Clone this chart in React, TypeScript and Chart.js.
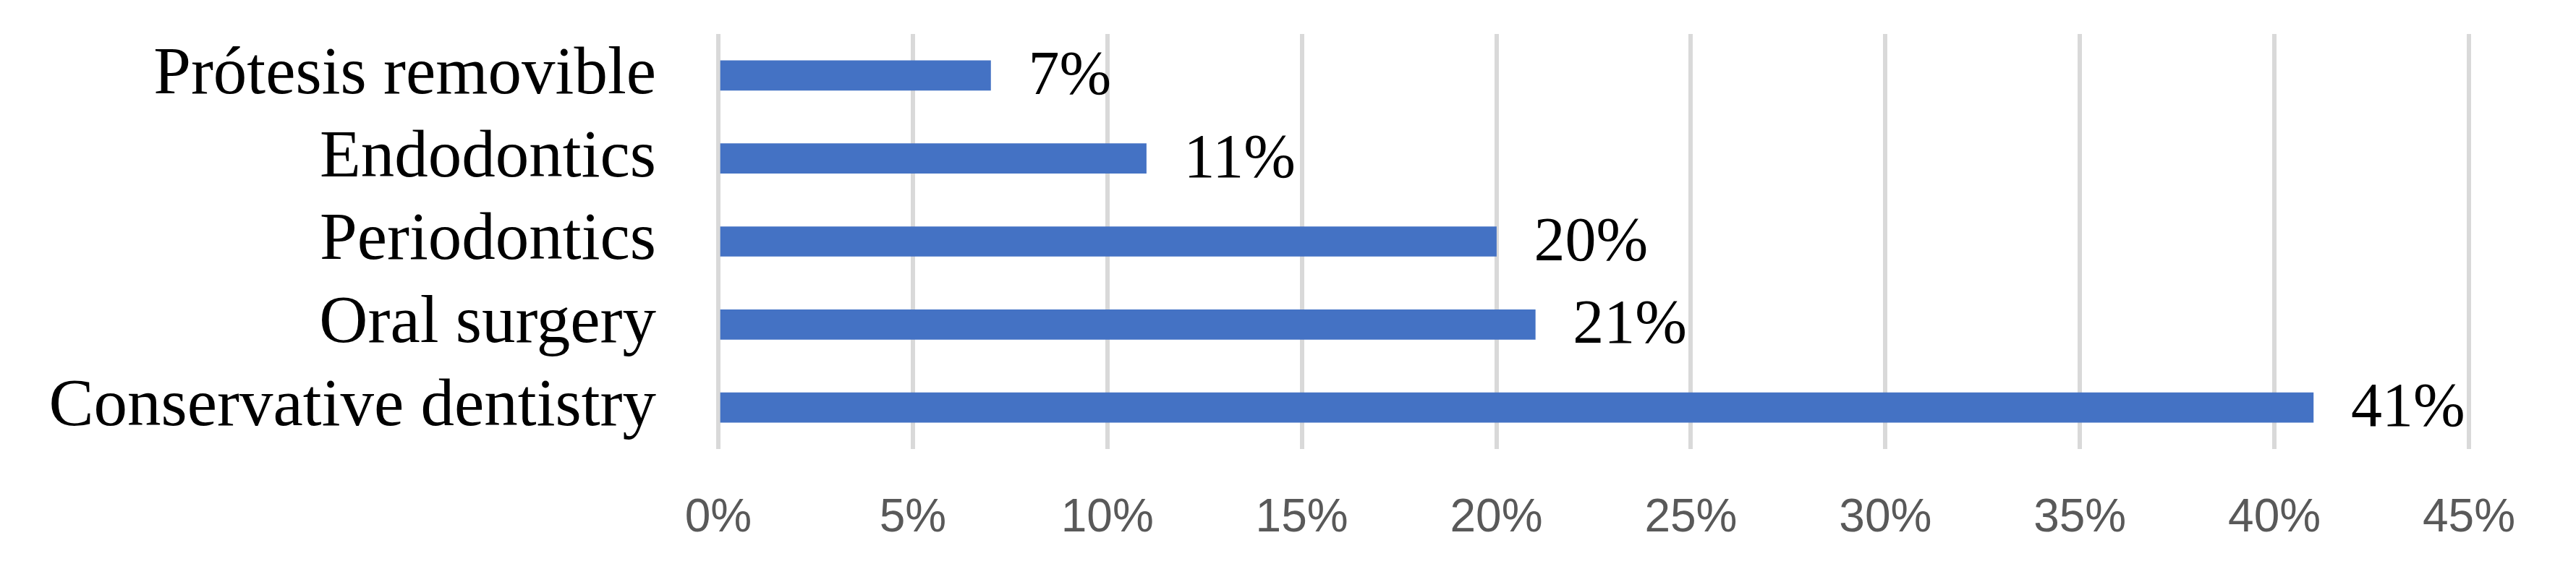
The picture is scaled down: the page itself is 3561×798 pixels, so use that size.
import React, { useEffect, useRef } from 'react';
import { Chart, registerables } from 'chart.js';

Chart.register(...registerables);

const categories = ['Prótesis removible', 'Endodontics', 'Periodontics', 'Oral surgery', 'Conservative dentistry'];
const values = [7, 11, 20, 21, 41];
const valueLabels = ['7%', '11%', '20%', '21%', '41%'];
const tickValues = [0, 5, 10, 15, 20, 25, 30, 35, 40, 45];

const barLabels = {
  id: 'barLabels',
  afterDatasetsDraw(chart: any) {
    const ctx = chart.ctx;
    const meta = chart.getDatasetMeta(0);
    ctx.save();
    ctx.font = '86px "Liberation Serif"';
    ctx.fillStyle = '#000000';
    ctx.textBaseline = 'middle';
    ctx.textAlign = 'left';
    meta.data.forEach((bar: any, i: number) => {
      ctx.fillText(valueLabels[i], bar.x + 52, bar.y + 3);
    });
    ctx.restore();
  },
};

export default function App() {
  const ref = useRef<HTMLCanvasElement | null>(null);
  useEffect(() => {
    if (!ref.current) return;
    const chart = new Chart(ref.current, {
      type: 'bar',
      data: {
        labels: categories,
        datasets: [
          {
            data: values,
            backgroundColor: '#4472C4',
            borderWidth: 0,
            barThickness: 41,
          },
        ],
      },
      options: {
        indexAxis: 'y',
        responsive: false,
        animation: false,
        layout: { padding: { top: 47, right: 148, left: 0, bottom: 0 } },
        plugins: { legend: { display: false }, tooltip: { enabled: false } },
        scales: {
          x: {
            min: 0,
            max: 45,
            afterBuildTicks: (scale: any) => {
              scale.ticks = tickValues.map((v) => ({ value: v }));
            },
            afterFit: (scale: any) => {
              scale.height = 177;
              scale.paddingLeft = 0;
              scale.paddingRight = 0;
            },
            ticks: {
              callback: (v: any) => v + '%',
              color: '#595959',
              font: { family: '"Liberation Sans"', size: 64 },
              padding: 58,
              maxRotation: 0,
              autoSkip: false,
            },
            grid: { color: '#D9D9D9', lineWidth: 6, drawTicks: false },
            border: { display: false },
          },
          y: {
            afterFit: (scale: any) => {
              scale.width = 993;
              scale.paddingTop = 0;
              scale.paddingBottom = 0;
            },
            ticks: {
              color: '#000000',
              font: { family: '"Liberation Serif"', size: 93 },
              padding: 86,
              autoSkip: false,
            },
            grid: { display: false, drawTicks: false },
            border: { display: false },
          },
        },
      },
      plugins: [barLabels],
    });
    return () => chart.destroy();
  }, []);
  return (
    <div style={{ position: 'absolute', left: 0, top: 0, width: 3561, height: 798, background: '#fff' }}>
      <canvas ref={ref} width={3561} height={798} style={{ width: 3561, height: 798, display: 'block' }} />
    </div>
  );
}
